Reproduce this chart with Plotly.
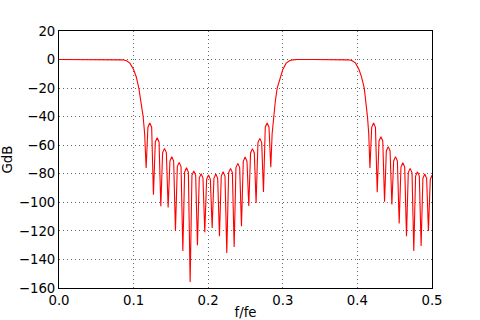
import plotly.graph_objects as go

# Passband 1 and its falling edge
pass1_f = [0.0, 0.02, 0.04, 0.06, 0.08, 0.086, 0.0905, 0.095, 0.1, 0.1035, 0.107, 0.110, 0.1128, 0.1148]
pass1_db = [0, 0, 0, 0, 0, -0.2, -0.9, -2.5, -7, -12, -20, -29, -40, -52]

# Stopband 1 (null, shoulder, peak, shoulder, ...)
stop1_f = [0.1168, 0.1192, 0.1217, 0.1242, 0.1266, 0.1291, 0.1316, 0.1341, 0.1365, 0.1389, 0.1414, 0.1439,
           0.1463, 0.1487, 0.1512, 0.1537, 0.1561, 0.1586, 0.1611, 0.1636, 0.1660, 0.1684, 0.1709, 0.1734,
           0.1758, 0.1782, 0.1807, 0.1832, 0.1856, 0.1880, 0.1905, 0.1930, 0.1954, 0.1979, 0.2004, 0.2029,
           0.2053, 0.2077, 0.2102, 0.2127, 0.2151, 0.2175, 0.2200, 0.2225, 0.2249, 0.2274, 0.2299, 0.2324,
           0.2348, 0.2372, 0.2397, 0.2422, 0.2446, 0.2470, 0.2495, 0.2520, 0.2544, 0.2568, 0.2593, 0.2618,
           0.2642, 0.2667, 0.2692, 0.2717, 0.2741, 0.2765, 0.2790, 0.2815, 0.2839]
stop1_db = [-76, -47.4, -44.4, -47.4, -94.7, -57.7, -54.7, -57.7, -102.7, -65.2, -62.2, -65.2,
            -103.6, -71.1, -68.1, -71.1, -120, -75, -72, -75, -134, -78.8, -75.8, -78.8,
            -155.8, -81.1, -78.1, -81.1, -130, -83, -80, -83, -121, -83.9, -80.9, -83.9,
            -118, -83.2, -80.2, -83.2, -123.7, -81.6, -78.6, -81.6, -135.4, -79.2, -76.2, -79.2,
            -131.2, -75.7, -72.7, -75.7, -116.7, -71.3, -68.3, -71.3, -102.5, -65.4, -62.4, -65.4,
            -100.4, -58.2, -55.2, -58.2, -92.8, -47.4, -44.4, -47.4, -75.5]

# Passband 2 with rising and falling edges
pass2_f = [0.2857, 0.2877, 0.2900, 0.2925, 0.2965, 0.3, 0.3045, 0.309, 0.3135, 0.32, 0.34, 0.36, 0.38,
           0.3886, 0.3931, 0.3976, 0.4021, 0.4054, 0.4092, 0.4115, 0.4135, 0.4152]
pass2_db = [-52, -40, -29, -20, -12, -7, -2.5, -0.9, -0.2, 0, 0, 0, 0,
            -0.2, -0.9, -2.5, -7, -12, -20, -29, -40, -52]

# Stopband 2
stop2_f = [0.4168, 0.4192, 0.4217, 0.4242, 0.4266, 0.4290, 0.4315, 0.4340, 0.4364, 0.4388, 0.4413, 0.4438,
           0.4462, 0.4486, 0.4511, 0.4536, 0.4560, 0.4584, 0.4609, 0.4634, 0.4658, 0.4682, 0.4707, 0.4732,
           0.4756, 0.4780, 0.4805, 0.4830, 0.4854, 0.4878, 0.4903, 0.4928, 0.4952, 0.4977, 0.5]
stop2_db = [-76, -47.5, -44.5, -47.5, -93, -57, -54, -57, -99.6, -64, -61, -64,
            -101.5, -71, -68, -71, -114.8, -75.3, -72.3, -75.3, -123.7, -79.2, -76.2, -79.2,
            -134, -81.6, -78.6, -81.6, -130.5, -83.2, -80.2, -83.2, -120, -84, -81]

x_ticks = [0.0, 0.1, 0.2, 0.3, 0.4, 0.5]
x_labels = ["0.0", "0.1", "0.2", "0.3", "0.4", "0.5"]
y_ticks = [20, 0, -20, -40, -60, -80, -100, -120, -140, -160]
y_labels = ["20", "0", "\u221220", "\u221240", "\u221260", "\u221280", "\u2212100", "\u2212120", "\u2212140", "\u2212160"]

f_all = pass1_f + stop1_f + pass2_f + stop2_f
db_all = pass1_db + stop1_db + pass2_db + stop2_db

fig = go.Figure()
fig.add_trace(go.Scatter(x=f_all, y=db_all, mode="lines",
                         line=dict(color="red", width=1.1), showlegend=False))

font = dict(family="DejaVu Sans", size=13.3, color="black")
axis_common = dict(showline=True, linecolor="black", linewidth=1, mirror=True,
                   showgrid=True, gridcolor="#666", gridwidth=1, griddash="1px,3px",
                   zeroline=False, ticks="", tickfont=font, automargin=False)

fig.update_layout(
    width=480, height=320,
    margin=dict(l=59, r=48, t=31, b=32),
    paper_bgcolor="white", plot_bgcolor="white",
    font=font,
    xaxis=dict(range=[0, 0.5], tickvals=x_ticks, ticktext=x_labels,
               title=dict(text="f/fe", font=font, standoff=4), **axis_common),
    yaxis=dict(range=[-160, 20], tickvals=y_ticks, ticktext=y_labels,
               title=dict(text="GdB", font=font, standoff=4), **axis_common),
)

fig.write_html("out.html")
